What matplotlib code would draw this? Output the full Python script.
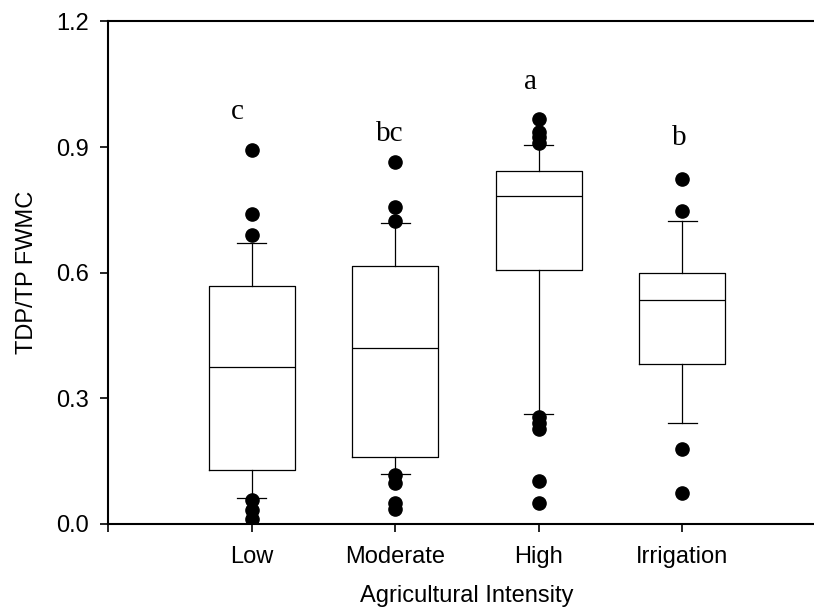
import matplotlib
matplotlib.use("Agg")
import matplotlib.pyplot as plt

categories = ["Low", "Moderate", "High", "Irrigation"]
q1 = [0.129, 0.161, 0.606, 0.383]
median = [0.374, 0.421, 0.784, 0.534]
q3 = [0.569, 0.617, 0.844, 0.600]
whisker_low = [0.061, 0.119, 0.263, 0.242]
whisker_high = [0.670, 0.719, 0.905, 0.724]
outliers = [
    [0.893, 0.740, 0.690, 0.058, 0.034, 0.011],
    [0.864, 0.758, 0.723, 0.117, 0.099, 0.051, 0.036],
    [0.967, 0.937, 0.925, 0.910, 0.256, 0.242, 0.226, 0.103, 0.051],
    [0.824, 0.747, 0.178, 0.073],
]
letters = ["c", "bc", "a", "b"]
letter_x = [0.90, 1.96, 2.94, 3.975]
letter_y = [0.967, 0.915, 1.039, 0.906]
yticks = [0.0, 0.3, 0.6, 0.9, 1.2]
ytick_labels = ["0.0", "0.3", "0.6", "0.9", "1.2"]

plt.rcParams['font.family'] = ['Liberation Sans', 'DejaVu Sans']

fig = plt.figure(figsize=(8.14, 6.10), dpi=100)
ax = fig.add_axes([108 / 814, 86 / 610, 718 / 814, 502.6 / 610])

positions = list(range(1, len(categories) + 1))
stats = []
for i, name in enumerate(categories):
    stats.append(dict(label=name, q1=q1[i], med=median[i], q3=q3[i],
                      whislo=whisker_low[i], whishi=whisker_high[i],
                      fliers=outliers[i]))

ax.bxp(stats, positions=positions, widths=0.6, capwidths=0.2,
       boxprops=dict(color="black", linewidth=0.9),
       medianprops=dict(color="black", linewidth=0.9),
       whiskerprops=dict(color="black", linewidth=0.9),
       capprops=dict(color="black", linewidth=0.9),
       flierprops=dict(marker="o", markerfacecolor="black",
                       markeredgecolor="black", markersize=9.5),
       manage_ticks=False)

for x, t, y in zip(letter_x, letters, letter_y):
    ax.text(x, y, t, ha="center", va="baseline", fontsize=21,
            family="Liberation Serif")

ax.set_xlim(0, 5)
ax.set_ylim(0, 1.2)
ax.set_xticks([0] + positions + [5])
ax.set_xticklabels([""] + categories + [""])
ax.set_yticks(yticks)
ax.set_yticklabels(ytick_labels)
ax.tick_params(axis="both", direction="out", length=6, width=1.2,
               labelsize=17, pad=8)
ax.tick_params(axis="x", pad=10)

ax.spines["right"].set_visible(False)
for s in ["left", "top", "bottom"]:
    ax.spines[s].set_linewidth(1.5)

ax.set_xlabel("Agricultural Intensity", fontsize=17, labelpad=12)
ax.set_ylabel("TDP/TP FWMC", fontsize=17, labelpad=13)

fig.savefig("out.png", dpi=100)
